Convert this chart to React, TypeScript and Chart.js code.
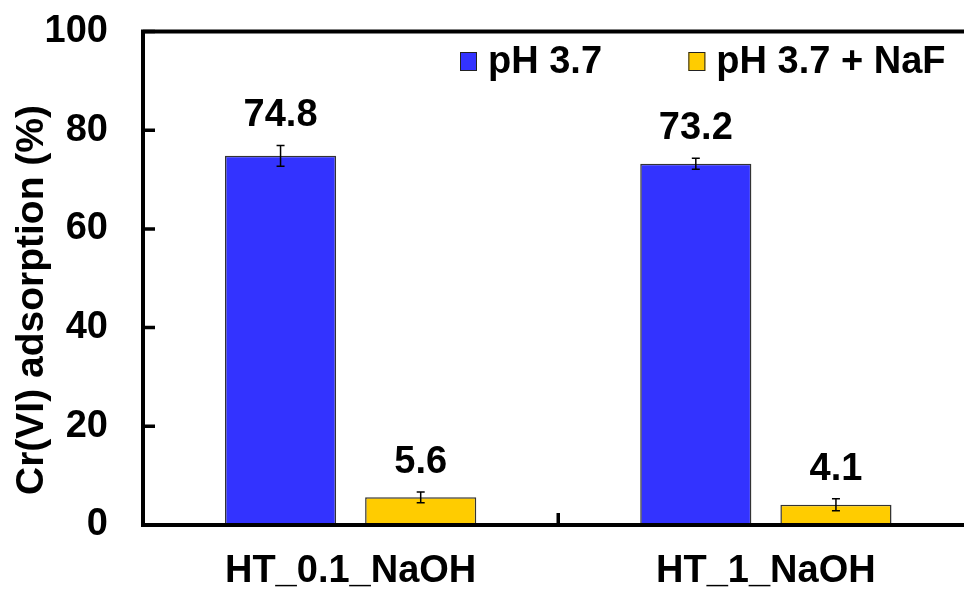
import React, { useEffect, useRef } from "react";
import { Chart, registerables } from "chart.js";

Chart.register(...registerables);

// Sample groups and the two adsorption conditions
const categories = ["HT_0.1_NaOH", "HT_1_NaOH"];
const seriesLabels = ["pH 3.7", "pH 3.7 + NaF"];
const phValues = [74.8, 73.2];
const phErrors = [2.1, 1.1];
const nafValues = [5.6, 4.1];
const nafErrors = [1.1, 1.2];
const yTickValues = [0, 20, 40, 60, 80, 100];
const yTitle = "Cr(VI) adsorption (%)";

const seriesColors = ["#3333FF", "#FFCC00"];
const FONT_FAMILY = "'Liberation Sans', Arial, Helvetica, sans-serif";
const FONT_SIZE = 38;
const TITLE_SIZE = 39;

const CANVAS_W = 980;
const CANVAS_H = 589;

const errorsBySeries = [phErrors, nafErrors];

const decorPlugin = {
  id: "decor",
  afterDatasetsDraw(chart: any) {
    const { ctx } = chart;
    const yScale = chart.scales.y;
    ctx.save();
    chart.data.datasets.forEach((ds: any, di: number) => {
      const meta = chart.getDatasetMeta(di);
      meta.data.forEach((bar: any, i: number) => {
        const v = ds.data[i];
        const e = errorsBySeries[di][i];
        const x = bar.x;
        const yTop = yScale.getPixelForValue(v + e);
        const yBot = yScale.getPixelForValue(v - e);
        // error bar
        ctx.strokeStyle = "#000";
        ctx.lineWidth = 1.5;
        ctx.beginPath();
        ctx.moveTo(x, yTop);
        ctx.lineTo(x, yBot);
        ctx.moveTo(x - 4, yTop);
        ctx.lineTo(x + 4, yTop);
        ctx.moveTo(x - 4, yBot);
        ctx.lineTo(x + 4, yBot);
        ctx.stroke();
        // value label
        ctx.fillStyle = "#000";
        ctx.font = `bold ${FONT_SIZE}px ${FONT_FAMILY}`;
        ctx.textAlign = "center";
        ctx.textBaseline = "alphabetic";
        ctx.fillText(v.toFixed(1), x, yTop - 19);
      });
    });
    ctx.restore();
  },
  afterDraw(chart: any) {
    const { ctx, chartArea } = chart;
    const { left, top, bottom } = chartArea;
    const xScale = chart.scales.x;
    const yScale = chart.scales.y;
    ctx.save();
    ctx.strokeStyle = "#000";
    ctx.lineWidth = 4;
    ctx.lineCap = "butt";
    // frame: left axis, top line, bottom axis
    ctx.beginPath();
    ctx.moveTo(left, bottom + 2);
    ctx.lineTo(left, top - 2);
    ctx.moveTo(left - 2, top);
    ctx.lineTo(chart.width, top);
    ctx.moveTo(left - 2, bottom);
    ctx.lineTo(chart.width, bottom);
    ctx.stroke();
    // inward ticks on the value axis
    ctx.lineWidth = 3.5;
    ctx.beginPath();
    yTickValues.forEach((t) => {
      const y = yScale.getPixelForValue(t);
      ctx.moveTo(left, y);
      ctx.lineTo(left + 12, y);
    });
    // category separator tick
    for (let i = 0; i < categories.length - 1; i++) {
      const xa = xScale.getPixelForValue(i);
      const xb = xScale.getPixelForValue(i + 1);
      const xm = (xa + xb) / 2;
      ctx.moveTo(xm, bottom);
      ctx.lineTo(xm, bottom - 12);
    }
    ctx.stroke();

    ctx.fillStyle = "#000";
    ctx.font = `bold ${FONT_SIZE}px ${FONT_FAMILY}`;

    // value-axis tick labels
    ctx.textAlign = "right";
    ctx.textBaseline = "middle";
    yTickValues.forEach((t) => {
      ctx.fillText(String(t), left - 35, yScale.getPixelForValue(t));
    });

    // axis title
    ctx.font = `bold ${TITLE_SIZE}px ${FONT_FAMILY}`;
    ctx.textAlign = "center";
    ctx.textBaseline = "middle";
    ctx.translate(32, 300);
    ctx.rotate(-Math.PI / 2);
    ctx.fillText(yTitle, 0, 0);
    ctx.setTransform(1, 0, 0, 1, 0, 0);

    // legend
    ctx.font = `bold ${FONT_SIZE}px ${FONT_FAMILY}`;
    const boxW = 17;
    const boxH = 19;
    const gap = 11;
    const legendY = 61.5;
    ctx.textAlign = "left";
    ctx.textBaseline = "middle";
    const text2W = ctx.measureText(seriesLabels[1]).width;
    const item2TextX = chartArea.right - 28 - text2W;
    const item1BoxX = left + 317;
    const positions = [
      { boxX: item1BoxX, textX: item1BoxX + boxW + gap },
      { boxX: item2TextX - gap - boxW, textX: item2TextX },
    ];
    positions.forEach((p, i) => {
      ctx.fillStyle = seriesColors[i];
      ctx.fillRect(p.boxX, legendY - boxH / 2, boxW, boxH);
      ctx.strokeStyle = "#222";
      ctx.lineWidth = 1;
      ctx.strokeRect(p.boxX + 0.5, legendY - boxH / 2 + 0.5, boxW - 1, boxH - 1);
      ctx.fillStyle = "#000";
      ctx.fillText(seriesLabels[i], p.textX, legendY + 1);
    });
    ctx.restore();
  },
};

export default function App() {
  const canvasRef = useRef<HTMLCanvasElement | null>(null);

  useEffect(() => {
    const canvas = canvasRef.current;
    if (!canvas) return;
    const chart = new Chart(canvas, {
      type: "bar",
      data: {
        labels: categories,
        datasets: [
          {
            label: seriesLabels[0],
            data: phValues,
            backgroundColor: seriesColors[0],
            borderColor: "#333333",
            borderWidth: 1.5,
            categoryPercentage: 0.675,
            barPercentage: 0.793,
          },
          {
            label: seriesLabels[1],
            data: nafValues,
            backgroundColor: seriesColors[1],
            borderColor: "#333333",
            borderWidth: 1.5,
            categoryPercentage: 0.675,
            barPercentage: 0.793,
          },
        ],
      },
      options: {
        responsive: false,
        animation: false,
        events: [],
        layout: { padding: { top: 31.5, right: 6.5, left: 0, bottom: 0 } },
        plugins: {
          legend: { display: false },
          tooltip: { enabled: false },
          title: { display: false },
        },
        scales: {
          x: {
            grid: { display: false, drawTicks: false },
            border: { display: false },
            ticks: {
              color: "#000",
              padding: 24,
              font: { family: FONT_FAMILY, size: FONT_SIZE, weight: "bold" },
              maxRotation: 0,
              autoSkip: false,
            },
            afterFit: (scale: any) => {
              scale.height = 64;
            },
          },
          y: {
            min: 0,
            max: 100,
            grid: { display: false, drawTicks: false },
            border: { display: false },
            afterBuildTicks: (scale: any) => {
              scale.ticks = yTickValues.map((v) => ({ value: v }));
            },
            ticks: { display: false },
            afterFit: (scale: any) => {
              scale.width = 143;
            },
          },
        },
      },
      plugins: [decorPlugin],
    });
    return () => chart.destroy();
  }, []);

  return (
    <div
      style={{
        position: "absolute",
        left: 0,
        top: 0,
        width: 964,
        height: 589,
        overflow: "hidden",
        background: "#fff",
      }}
    >
      <canvas
        ref={canvasRef}
        width={CANVAS_W}
        height={CANVAS_H}
        style={{ display: "block", width: CANVAS_W, height: CANVAS_H }}
      />
    </div>
  );
}
